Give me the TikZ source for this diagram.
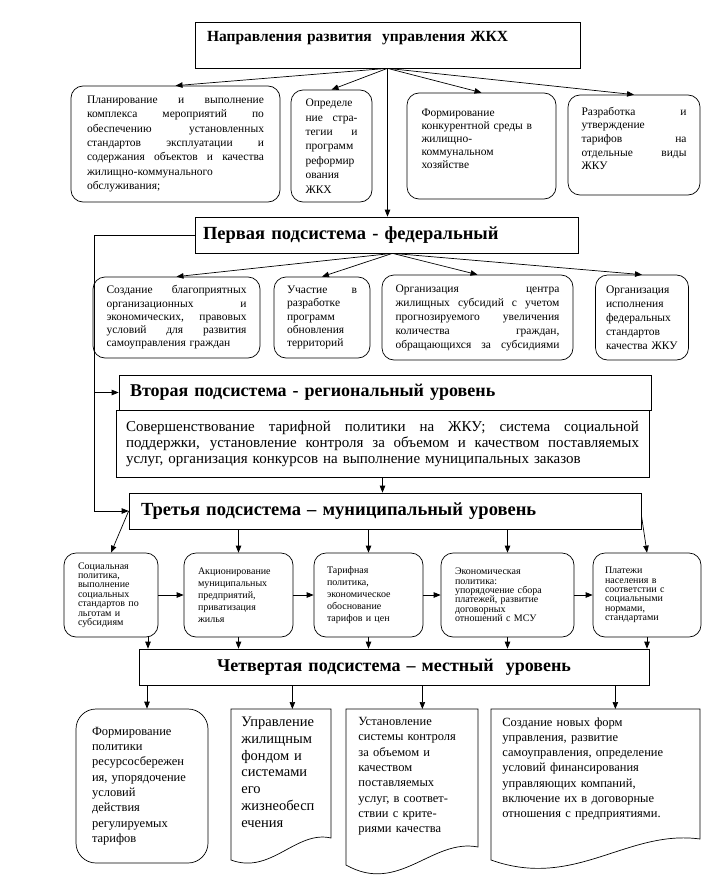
\documentclass[tikz,border=0pt]{standalone}
\usepackage{fontspec}
\setmainfont{Liberation Serif}
\usetikzlibrary{arrows.meta}

% justified line inside a box (as wide as the node's text width)
\newlength{\jlw}
\newcommand{\jl}[1]{{\spaceskip=0.25em plus 10em\makebox[\jlw][s]{#1}}}
\newcommand{\atext}{\fontsize{11.5}{14.4}\selectfont}
\newcommand{\btext}{\fontsize{11.5}{13.3}\selectfont}
\newcommand{\ctext}{\fontsize{10}{9.4}\selectfont}
\newcommand{\dtext}{\fontsize{12.5}{15.3}\selectfont}

\begin{document}
\begin{tikzpicture}[x=1pt, y=-1pt, >={Triangle[length=7pt,width=5.5pt]}, line width=0.7pt,
  tw/.style={text width=#1, jw=#1},
  jw/.code={\global\jlw=#1\relax},
  hbox/.style={draw, rectangle, inner ysep=0pt, align=left, font=\bfseries\fontsize{18}{20}\selectfont},
  rbox/.style={draw, rounded corners=12pt, align=left, inner sep=0pt},
  docbox/.style={anchor=north west, align=left, inner ysep=8pt, font=\dtext}]

  \useasboundingbox (0,0) rectangle (710,888);

  % --- rows ---
  \def\ya{144}
  \def\yb{317.5}
  \def\yc{595}

  % ============================================================
  % Заголовок и направления
  % ============================================================
  \node[hbox, text width=361pt, inner xsep=12pt, minimum height=46pt, text depth=18pt,
        font=\bfseries\fontsize{15.5}{17}\selectfont] (title) at (387.5,45)
        {Направления развития \ управления ЖКХ};

  \node[rbox, tw=177pt, minimum width=209pt, minimum height=116pt, font=\atext] (a1) at (175.5,\ya)
    {\jl{Планирование и выполнение}\\ \jl{комплекса мероприятий по}\\ \jl{обеспечению установленных}\\
     \jl{стандартов эксплуатации и}\\ \jl{содержания объектов и качества}\\ жилищно-коммунального\\ обслуживания;};
  \node[rbox, tw=52pt, minimum width=81pt, minimum height=112pt, font=\atext] (a2) at (331.5,146)
    {Определе\\ \jl{ние стра-}\\ \jl{тегии и}\\ программ\\ реформир\\ ования\\ ЖКХ};
  \node[rbox, tw=120pt, minimum width=149pt, minimum height=106pt, text depth=67pt,
        font=\fontsize{11.5}{13}\selectfont] (a3) at (481.5,146)
    {Формирование\\ конкурентной среды в\\ жилищно-\\ коммунальном\\ хозяйстве};
  \node[rbox, tw=105pt, minimum width=132pt, minimum height=100pt, text depth=68pt,
        font=\fontsize{11.5}{13.7}\selectfont] (a4) at (634,145)
    {\jl{Разработка и}\\ утверждение\\ \jl{тарифов на}\\ \jl{отдельные виды}\\ ЖКУ};

  \draw[->] (title.south) -- (a1.north);
  \draw[->] (title.south) -- (a2.north);
  \draw[->] (title.south) -- (a3.north);
  \draw[->] (title.south) -- (a4.north);

  % ============================================================
  % Первая подсистема
  % ============================================================
  \node[hbox, text width=367pt, inner xsep=8pt, minimum height=36pt,
        font=\bfseries\fontsize{18.5}{20}\selectfont] (sub1) at (386.5,235)
        {Первая подсистема - федеральный};
  \draw[->] (title.south) -- (title.south |- sub1.north);

  \node[rbox, tw=140pt, minimum width=167pt, minimum height=81pt, font=\btext] (b1) at (176.5,\yb)
    {\jl{Создание благоприятных}\\ \jl{организационных и}\\ \jl{экономических, правовых}\\
     \jl{условий для развития}\\ самоуправления граждан};
  \node[rbox, tw=70pt, minimum width=96pt, minimum height=81pt, font=\btext] (b2) at (322,\yb)
    {\jl{Участие в}\\ разработке\\ программ\\ обновления\\ территорий};
  \node[rbox, tw=164pt, minimum width=191pt, minimum height=85pt,
        font=\fontsize{11.5}{14}\selectfont] (b3) at (477.5,\yb)
    {\jl{Организация центра}\\ \jl{жилищных субсидий с учетом}\\ \jl{прогнозируемого увеличения}\\
     \jl{количества граждан,}\\ \jl{обращающихся за субсидиями}};
  \node[rbox, tw=72pt, minimum width=93pt, minimum height=85pt,
        font=\fontsize{11.5}{14}\selectfont] (b4) at (642,\yb)
    {Организация\\ исполнения\\ федеральных\\ стандартов\\ качества ЖКУ};

  \draw[->] ([xshift=6pt]sub1.south) -- (b1.north);
  \draw[->] ([xshift=6pt]sub1.south) -- (b2.north);
  \draw[->] ([xshift=6pt]sub1.south) -- (b3.north);
  \draw[->] ([xshift=6pt]sub1.south) -- (b4.north);

  % ============================================================
  % Вторая подсистема
  % ============================================================
  \node[hbox, text width=510pt, inner xsep=11pt, minimum height=35pt] (sub2) at (385,392.5)
    {Вторая подсистема - региональный уровень};
  \node[draw, rectangle, tw=513pt, inner xsep=10pt, minimum height=67pt, align=left,
        font=\fontsize{15}{16}\selectfont] (sub2txt) at (382.5,443.5)
    {\jl{Совершенствование тарифной политики на ЖКУ; система социальной}\\
     \jl{поддержки, установление контроля за объемом и качеством поставляемых}\\
     услуг, организация конкурсов на выполнение муниципальных заказов};

  % ============================================================
  % Третья подсистема
  % ============================================================
  \node[hbox, text width=488pt, inner xsep=12pt, minimum height=36pt,
        font=\bfseries\fontsize{18.5}{20}\selectfont] (sub3) at (385,511)
    {Третья подсистема -- муниципальный уровень};
  \draw[->] (sub2txt.south) -- (sub2txt.south |- sub3.north);
  \draw[->] (sub1.west) -| ([xshift=-34pt]sub3.west) -- (sub3.west);
  \draw[->] ([xshift=-24pt]sub2.west) -- (sub2.west);

  \node[rbox, text width=66pt, minimum width=94pt, minimum height=84pt, font=\ctext] (c1) at (111,\yc)
    {Социальная\\ политика,\\ выполнение\\ социальных\\ стандартов по\\ льготам и\\ субсидиям};
  \node[rbox, text width=81pt, minimum width=109pt, minimum height=84pt,
        font=\fontsize{10}{12}\selectfont] (c2) at (238.5,\yc)
    {Акционирование\\ муниципальных\\ предприятий,\\ приватизация\\ жилья};
  \node[rbox, text width=83pt, minimum width=109pt, minimum height=84pt,
        font=\fontsize{10}{12}\selectfont] (c3) at (368.5,\yc)
    {Тарифная\\ политика,\\ экономическое\\ обоснование\\ тарифов и цен};
  \node[rbox, text width=105pt, minimum width=133pt, minimum height=84pt, font=\ctext] (c4) at (507.5,\yc)
    {Экономическая\\ политика:\\ упорядочение сбора\\ платежей, развитие\\ договорных\\ отношений с МСУ};
  \node[rbox, text width=84pt, minimum width=108pt, minimum height=84pt, font=\ctext] (c5) at (647,\yc)
    {Платежи\\ населения в\\ соответстии с\\ социальными\\ нормами,\\ стандартами};

  \draw[->] (sub3.west) -- (c1.north);
  \draw[->] (c2.north |- sub3.south) -- (c2.north);
  \draw[->] (c3.north |- sub3.south) -- (c3.north);
  \draw[->] (c4.north |- sub3.south) -- (c4.north);
  \draw[->] ([yshift=-4pt]sub3.east) -- (c5.north);

  \draw[->] (c1) -- (c2);
  \draw[->] (c2) -- (c3);
  \draw[->] (c3) -- (c4);
  \draw[->] (c4) -- (c5);

  % ============================================================
  % Четвертая подсистема
  % ============================================================
  \node[hbox, text width=490pt, inner xsep=10pt, minimum height=36pt, align=center] (sub4) at (394,667)
    {Четвертая подсистема -- местный \ уровень};

  \draw[->] ([xshift=37pt]c1.south) -- ([xshift=37pt]c1.south |- sub4.north);
  \draw[->] (c2.south) -- (c2.south |- sub4.north);
  \draw[->] (c3.south) -- (c3.south |- sub4.north);
  \draw[->] (c4.south) -- (c4.south |- sub4.north);
  \draw[->] (c5.south) -- (c5.south |- sub4.north);

  \node[rbox, rounded corners=20pt, text width=100pt, minimum width=132pt, minimum height=154pt,
        font=\dtext] (d1) at (142,786)
    {Формирование\\ политики\\ ресурсосбережен\\ ия, упорядочение\\ условий\\ действия\\ регулируемых\\ тарифов};

  % документы (волнистый низ)
  \draw (231,860) -- (231,709) -- (331,709) -- (331,838) .. controls (296,830) and (271,875) .. (231,860) -- cycle;
  \draw (346,865) -- (346,709) -- (478,709) -- (478,847) .. controls (432,838) and (399,895) .. (346,865) -- cycle;
  \draw (491,860) -- (491,709) -- (700,709) -- (700,839) .. controls (627,829) and (575,890) .. (491,860) -- cycle;

  \node[docbox, text width=80pt, inner xsep=10pt, font=\fontsize{14.5}{16.7}\selectfont] (d2) at (231,709)
    {Управление\\ жилищным\\ фондом и\\ системами\\ его\\ жизнеобесп\\ ечения};
  \node[docbox, text width=108pt, inner xsep=12pt] (d3) at (346,709)
    {Установление\\ системы контроля\\ за объемом и\\ качеством\\ поставляемых\\ услуг, в соответ-\\ ствии с крите-\\ риями качества};
  \node[docbox, text width=187pt, inner xsep=11pt] (d4) at (491,709)
    {Создание новых форм\\ управления, развитие\\ самоуправления, определение\\ условий финансирования\\
     управляющих компаний,\\ включение их в договорные\\ отношения с предприятиями.};

  \draw[->] ([xshift=5pt]d1.north |- sub4.south) -- ([xshift=5pt]d1.north);
  \draw[->] ([xshift=11pt]d2.north |- sub4.south) -- ([xshift=11pt]d2.north);
  \draw[->] ([xshift=10pt]d3.north |- sub4.south) -- ([xshift=10pt]d3.north);
  \draw[->] ([xshift=19.5pt]d4.north |- sub4.south) -- ([xshift=19.5pt]d4.north);

\end{tikzpicture}
\end{document}
